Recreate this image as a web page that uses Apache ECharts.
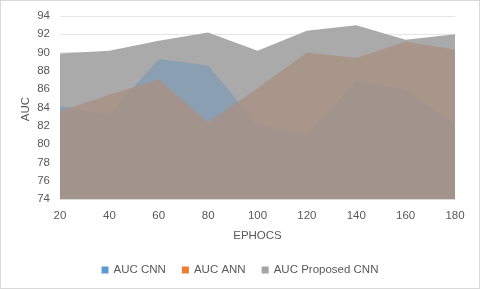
<!DOCTYPE html>
<html><head><meta charset="utf-8">
<script src="https://cdn.jsdelivr.net/npm/echarts@6/dist/echarts.min.js"></script>
<style>html,body{margin:0;padding:0;background:#fff}#c{width:478px;height:287px;border:1px solid #D9D9D9}</style>
</head><body><div id="c"></div>
<script>
var categories = ['20','40','60','80','100','120','140','160','180'];
var aucCNN = [84.2, 83.2, 89.3, 88.6, 82.1, 81.0, 86.9, 86.0, 82.2];
var aucANN = [83.6, 85.4, 87.1, 82.4, 86.1, 90.0, 89.4, 91.2, 90.3];
var aucProposed = [89.9, 90.2, 91.3, 92.2, 90.2, 92.4, 93.0, 91.4, 92.0];
var seriesNames = ['AUC CNN', 'AUC ANN', 'AUC Proposed CNN'];
var yTitle = 'AUC';

var chart = echarts.init(document.getElementById('c'), null, {renderer:'canvas'});
var font = 'Liberation Sans';
var txt = '#595959';
function areaSeries(name, data, legendColor, fill, z) {
  return {
    name: name, type: 'line', data: data, symbol: 'none', z: z,
    itemStyle: {color: legendColor},
    lineStyle: {width: 0},
    areaStyle: {color: fill, opacity: 1, origin: 'start'},
    emphasis: {disabled: true}
  };
}
chart.setOption({
  animation: false,
  grid: {left: 59, right: 24, top: 15, bottom: 89},
  graphic: [{
    type: 'text', x: 25, y: 108, rotation: Math.PI / 2,
    style: {text: yTitle, fill: txt, font: '11.5px "Liberation Sans"', align: 'center', verticalAlign: 'middle'}
  }],
  legend: {
    bottom: 7, left: 'center', icon: 'rect', itemWidth: 7, itemHeight: 7, itemGap: 16,
    textStyle: {color: txt, fontFamily: font, fontSize: 11.5},
    data: seriesNames
  },
  xAxis: {
    type: 'category', data: categories, boundaryGap: false,
    name: 'EPHOCS', nameLocation: 'middle', nameGap: 31,
    nameTextStyle: {color: txt, fontFamily: font, fontSize: 11.5},
    axisLine: {show: true, lineStyle: {color: '#D9D9D9'}},
    axisTick: {show: false},
    axisLabel: {color: txt, fontFamily: font, fontSize: 11.5, margin: 11},
    splitLine: {show: false}
  },
  yAxis: {
    type: 'value', min: 74, max: 94, interval: 2,
    axisLine: {show: false}, axisTick: {show: false},
    axisLabel: {color: txt, fontFamily: font, fontSize: 11.5, margin: 10},
    splitLine: {lineStyle: {color: '#E6E6E6'}}
  },
  series: [
    areaSeries(seriesNames[0], aucCNN, '#5B9BD5', 'rgba(118,152,184,0.6)', 3),
    areaSeries(seriesNames[1], aucANN, '#ED7D31', 'rgba(168,145,130,0.8)', 4),
    areaSeries(seriesNames[2], aucProposed, '#A5A5A5', '#AAAAAA', 2)
  ]
});
</script></body></html>
